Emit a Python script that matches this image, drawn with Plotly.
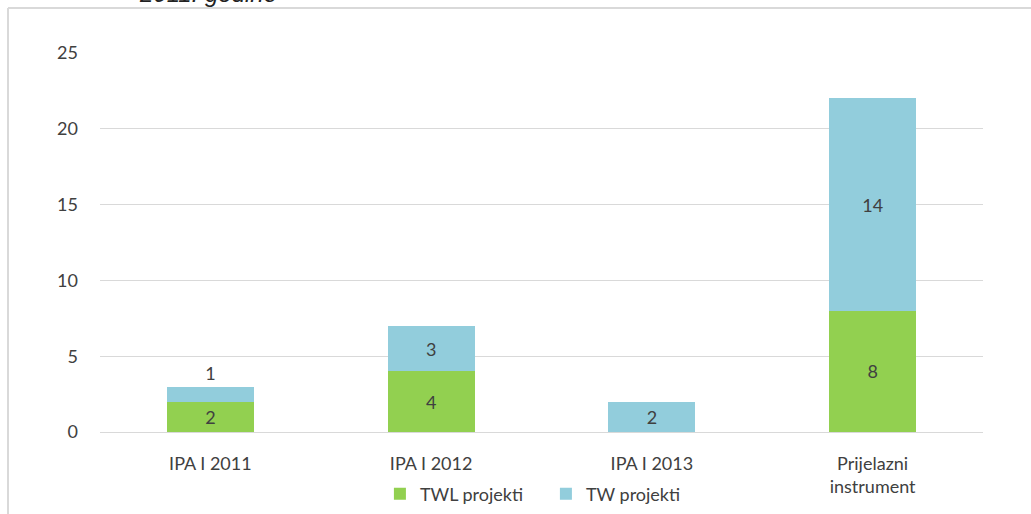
import plotly.graph_objects as go

categories = ["IPA I 2011", "IPA I 2012", "IPA I 2013", "Prijelazni<br>instrument"]
twl_values = [2, 4, 0, 8]
tw_values = [1, 3, 2, 14]
y_ticks = [0, 5, 10, 15, 20, 25]

GREEN = "#92d050"
BLUE = "#92cddc"
TXT = "#404040"
FONT = "Lato"

twl_text = [str(v) if v else "" for v in twl_values]
tw_text = [str(v) if v else "" for v in tw_values]
tw_pos = ["outside" if v < 2 else "inside" for v in tw_values]

fig = go.Figure()
fig.add_trace(go.Bar(
    x=categories, y=twl_values, name="TWL projekti",
    marker=dict(color=GREEN, line=dict(width=0)),
    text=twl_text, textposition="inside", insidetextanchor="middle",
    textfont=dict(family=FONT, size=18, color=TXT),
))
fig.add_trace(go.Bar(
    x=categories, y=tw_values, name="TW projekti",
    marker=dict(color=BLUE, line=dict(width=0)),
    text=tw_text, textposition=tw_pos, insidetextanchor="middle",
    textfont=dict(family=FONT, size=18, color=TXT),
    cliponaxis=False,
))

fig.update_layout(
    barmode="stack",
    bargap=0.605,
    width=1031, height=514,
    margin=dict(l=100, r=48, t=53, b=82, autoexpand=False),
    paper_bgcolor="white", plot_bgcolor="white",
    font=dict(family=FONT, size=18, color=TXT),
    uniformtext=dict(minsize=18, mode="show"),
    showlegend=True,
    legend=dict(orientation="h", x=0.317, xanchor="left", y=-0.164, yanchor="middle",
                font=dict(family=FONT, size=18, color=TXT),
                entrywidth=121, entrywidthmode="pixels",
                bgcolor="rgba(0,0,0,0)", traceorder="normal"),
    xaxis=dict(showgrid=False, showline=False, ticks="", ticklabelstandoff=19,
               automargin=False,
               tickfont=dict(family=FONT, size=18, color=TXT)),
    yaxis=dict(range=[0, 25], tickvals=y_ticks, showgrid=True, gridcolor="#d9d9d9",
               gridwidth=1, zeroline=True, zerolinecolor="#d9d9d9", zerolinewidth=1,
               showline=False, ticks="", ticklabelstandoff=21, automargin=False,
               tickfont=dict(family=FONT, size=18, color=TXT)),
    shapes=[
        dict(type="line", xref="paper", yref="paper", x0=-0.1042, x1=-0.1042,
             y0=-0.3, y1=1.1187, line=dict(color="#d9d9d9", width=2)),
        dict(type="line", xref="paper", yref="paper", x0=-0.1042, x1=1.1,
             y0=1.1187, y1=1.1187, line=dict(color="#d9d9d9", width=2)),
    ],
    annotations=[
        dict(text="<i>2011. godine</i>", xref="paper", yref="paper", x=0.122, y=1.1557,
             xanchor="center", yanchor="middle", showarrow=False,
             font=dict(family="Liberation Sans", size=24, color="#222222")),
    ],
)

fig.write_html("out.html", config={"displayModeBar": False},
               post_script="document.body.style.margin='0';")
